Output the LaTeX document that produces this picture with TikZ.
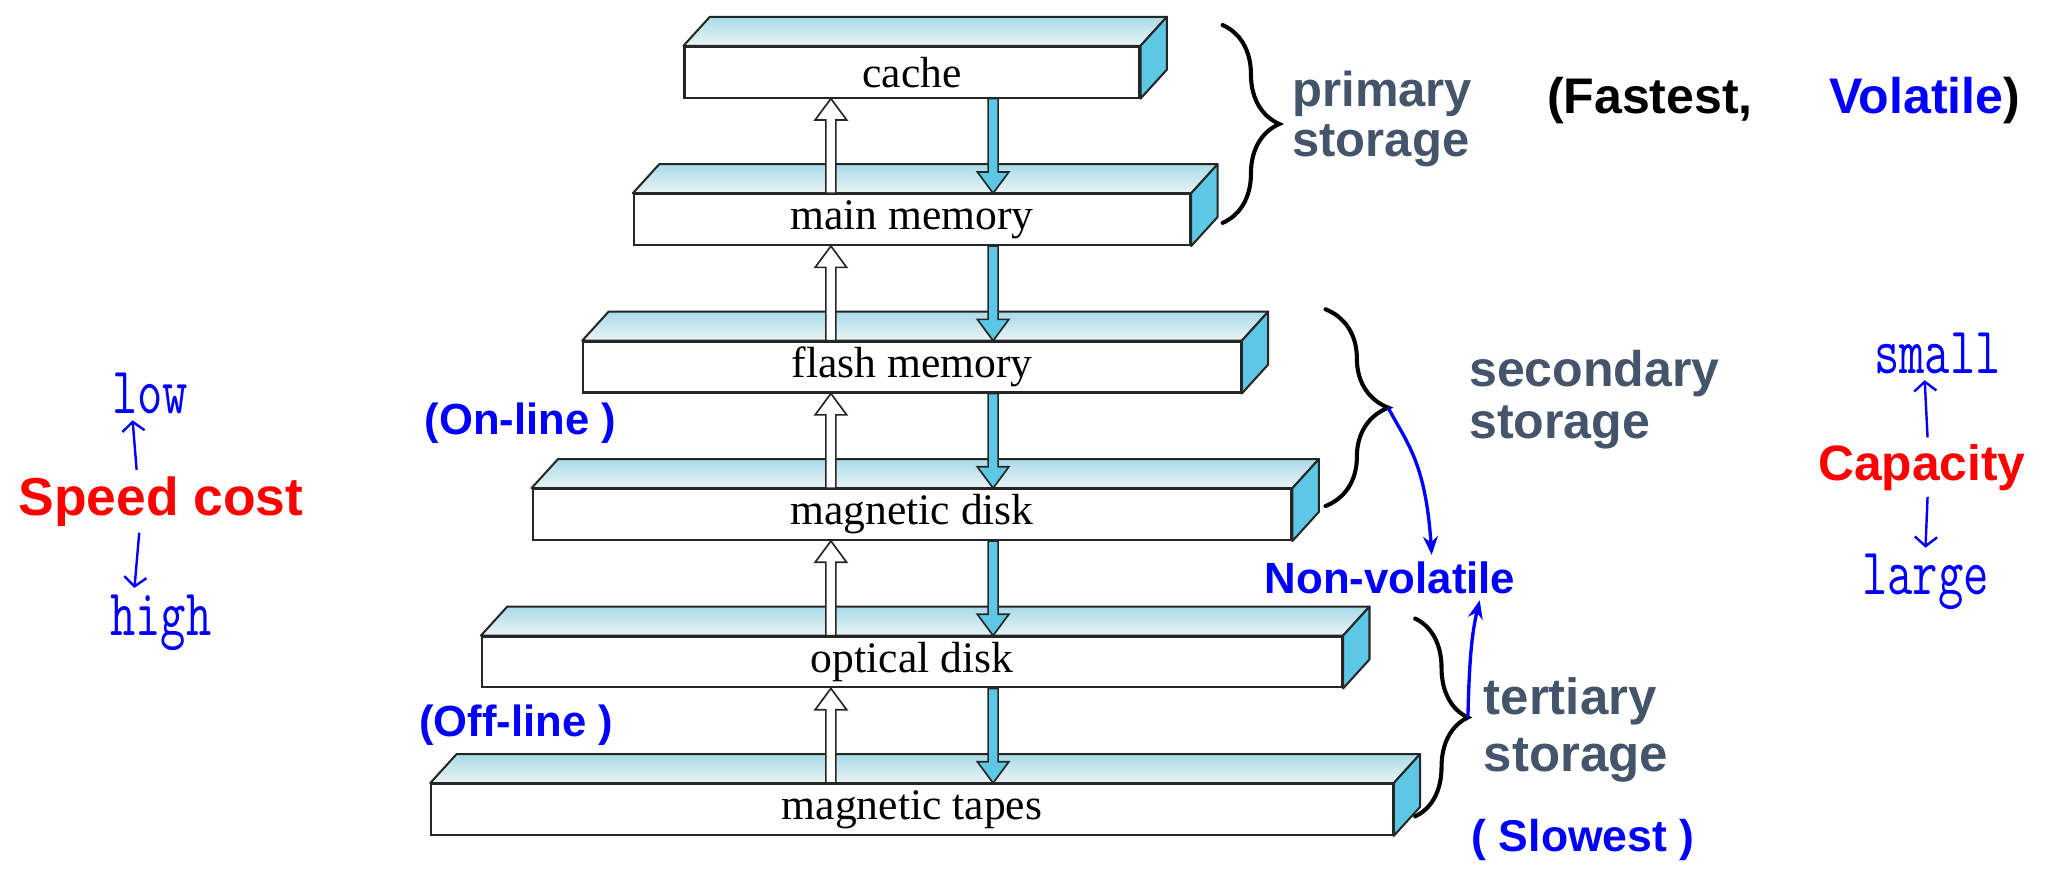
\documentclass[tikz,border=0pt]{standalone}
\usepackage{fontspec}
\setmainfont{Liberation Serif}
\newfontfamily\headfont{Liberation Sans}
\usetikzlibrary{arrows.meta, calc, decorations.pathreplacing}

\definecolor{faceblue}{HTML}{5CC8E6}
\definecolor{topback}{HTML}{A9DBE8}
\definecolor{topfront}{HTML}{EAF4F5}
\definecolor{slate}{HTML}{44546A}

\newcommand\blockarrow[3]{%
  \draw[line width=0.9pt, draw=black!85, fill=#1] let \p1=(#2), \p2=(#3), \n1={sign(\y2-\y1)} in
    (\x1-2.7pt,\y1) -- (\x1-2.7pt,{\y2-\n1*11.5pt}) -- (\x1-8.5pt,{\y2-\n1*11.5pt}) -- (\x2,\y2)
    -- (\x1+8.5pt,{\y2-\n1*11.5pt}) -- (\x1+2.7pt,{\y2-\n1*11.5pt}) -- (\x1+2.7pt,\y1) -- cycle;}

\begin{document}
\begin{tikzpicture}[x=0.025cm, y=-0.025cm,
    layer/.style={draw=black!85, line width=1.1pt, fill=white, inner sep=0pt,
      minimum height=0.9625cm, font=\fontsize{23.5}{26}\selectfont},
    face/.style={draw=black!85, line width=1.1pt, line join=round},
    note/.style={anchor=base west, font=\headfont\bfseries\fontsize{#1}{#1}\selectfont},
    store/.style 2 args={anchor=base west, align=left, text=slate,
      font=\headfont\bfseries\fontsize{#1}{#2}\selectfont},
    mono/.style={anchor=base west, text=blue, font=\ttfamily\fontsize{26.5}{28}\selectfont},
    curly/.style={decorate, line width=2.2pt, line cap=round},
    scalearrow/.style={blue, line width=1.3pt, -{Straight Barb[length=5pt,width=12pt]}},
    hint/.style={blue, line width=1.8pt, -{Stealth[length=10pt,width=8pt]}}]

  \useasboundingbox (0,0) rectangle (1568,670);
  \path (630,0) coordinate (upx) (753,0) coordinate (dnx);

  \foreach \lab [count=\i from 0] in {cache, main memory, flash memory, magnetic disk, optical disk, magnetic tapes}{
    \node[layer, minimum width={(345+76.8*\i)*0.025cm}] (b\i) at (691.5,{54.75+111.8*\i}) {\lab};
    \draw[face, top color=topback, bottom color=topfront] (b\i.north west) -- ([shift={(20,-22)}]b\i.north west)
      -- ([shift={(20,-22)}]b\i.north east) -- (b\i.north east) -- cycle;
    \draw[face, fill=faceblue] (b\i.north east) -- ([shift={(20,-22)}]b\i.north east)
      -- ([shift={(20,-22)}]b\i.south east) -- (b\i.south east) -- cycle;
  }
  \foreach \i [count=\j from 1] in {0,...,4}{
    \blockarrow{white}{b\j.north -| upx}{b\i.south -| upx}
    \blockarrow{faceblue}{b\i.south -| dnx}{b\j.north -| dnx}
  }

  \draw[curly, decoration={brace, amplitude=1.075cm}] (927,19) -- (927,169);
  \draw[curly, decoration={brace, amplitude=1.19cm}] (1005,234.5) -- (1005,383.7);
  \draw[curly, decoration={brace, amplitude=1.0cm}] (1073,469) -- (1073,619);
  \coordinate (sectip) at (1052.5,309);
  \coordinate (tertip) at (1113,544);

  \node[store={26.4}{27}] (prim) at (975,118.8) {primary\\storage};
  \node[store={27}{28.2}] (sec) at (1109,332.4) {secondary\\storage};
  \node[store={27.5}{30.6}] (ter) at (1120,585) {tertiary\\storage};
  \node[note=27] (fast) at (1168,86) {(Fastest,};
  \node[note=27] (vol) at (1382,86) {\textcolor{blue}{Volatile})};
  \node[note=23.5, blue] (online) at (317,329.8) {(On-line )};
  \node[note=23.5, blue] (offline) at (313,558.5) {(Off-line )};
  \node[note=23.6, blue] (nonvol) at (954,449.8) {Non-volatile};
  \node[note=24, blue] (slow) at (1111,645.7) {( Slowest )};
  \node[note=28.8, red] (speed) at (9,390.5) {Speed cost};
  \node[note=26.8, red] (cap) at (1373.6,364) {Capacity};
  \node[mono] (low) at (80,313.4) {\scalebox{1}[1.35]{low}};
  \node[mono] (high) at (78.6,481.5) {\scalebox{1}[1.35]{high}};
  \node[mono] (small) at (1416,283) {\scalebox{1}[1.35]{small}};
  \node[mono] (large) at (1407,451) {\scalebox{1}[1.35]{large}};

  \draw[scalearrow] ([xshift=-0.46cm]speed.north) -- ([xshift=-0.33cm]low.south);
  \draw[scalearrow] ([xshift=-0.41cm]speed.south) -- ([xshift=-0.5cm]high.north);
  \draw[scalearrow] ([xshift=0.11cm]cap.north) -- ([xshift=-0.24cm]small.south);
  \draw[scalearrow] ([xshift=0.11cm]cap.south) -- (large.north);
  \draw[hint] (sectip) .. controls (1066,335) and (1081,350) .. ([xshift=0.79cm]nonvol.north);
  \draw[hint] (tertip) .. controls (1114,500) and (1116,480) .. ([xshift=1.7cm]nonvol.south);
\end{tikzpicture}
\end{document}
